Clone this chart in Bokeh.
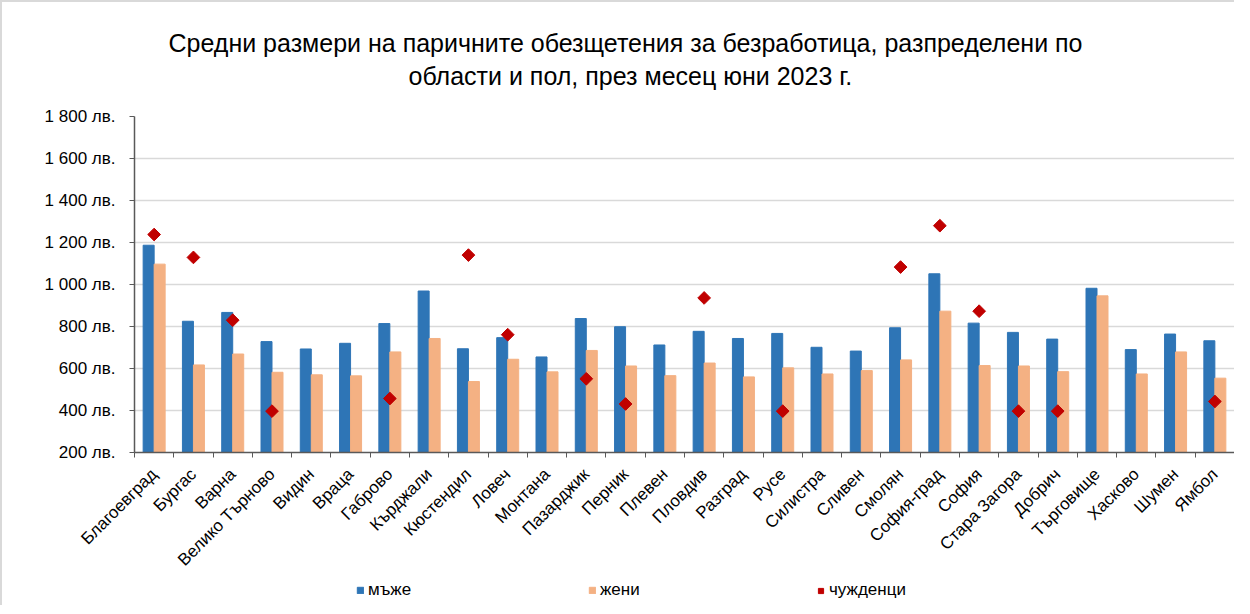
import numpy as np
from bokeh.plotting import figure
from bokeh.layouts import column
from bokeh.models import (ColumnDataSource, FixedTicker, Range1d, Title, Legend, LegendItem)
from bokeh.transform import dodge
from bokeh.embed import file_html
from bokeh.resources import INLINE

regions = ["Благоевград", "Бургас", "Варна", "Велико Търново", "Видин", "Враца", "Габрово",
           "Кърджали", "Кюстендил", "Ловеч", "Монтана", "Пазарджик", "Перник", "Плевен",
           "Пловдив", "Разград", "Русе", "Силистра", "Сливен", "Смолян", "София-град",
           "София", "Стара Загора", "Добрич", "Търговище", "Хасково", "Шумен", "Ямбол"]
men = [1187, 825, 867, 728, 693, 720, 814, 969, 694, 747, 655, 838, 799, 712,
       777, 743, 767, 701, 683, 794, 1051, 816, 772, 740, 982, 690, 764, 732]
women = [1097, 617, 669, 582, 570, 565, 679, 743, 538, 644, 584, 686, 612, 566,
         626, 560, 603, 574, 590, 641, 873, 614, 612, 585, 946, 574, 679, 554]
nan = float("nan")
foreigners = [1238, 1129, 830, 397, nan, nan, 457, nan, 1140, 761, nan, 551, 431, nan,
              936, nan, 397, nan, nan, 1083, 1280, 873, 397, 397, nan, nan, nan, 443]
y_ticks = [200, 400, 600, 800, 1000, 1200, 1400, 1600, 1800]
y_tick_labels = ["200 лв.", "400 лв.", "600 лв.", "800 лв.", "1 000 лв.", "1 200 лв.",
                 "1 400 лв.", "1 600 лв.", "1 800 лв."]
title_lines = ["Средни размери на паричните обезщетения за безработица, разпределени по",
               "области и пол, през месец юни 2023 г."]
series_names = ["мъже", "жени", "чужденци"]

FONT = "Liberation Sans"
BLUE = "#2e75b6"
ORANGE = "#f4b183"
RED = "#c00000"
AXIS = "#595959"
W = 1234

n = len(regions)
src = ColumnDataSource(dict(x=list(range(n)), men=men, women=women, foreigners=foreigners))

p = figure(width=W, height=577, output_backend="svg", toolbar_location=None,
           x_range=Range1d(-0.5, n - 0.5), y_range=Range1d(200, 1800),
           min_border_left=132, min_border_right=2, min_border_top=114, min_border_bottom=124)
p.title.text = ""
p.outline_line_color = None
p.background_fill_color = "white"
p.border_fill_color = "white"

r_men = p.vbar(x=dodge("x", -0.14, range=p.x_range), top="men", bottom=200, width=0.28,
               source=src, fill_color=BLUE, line_color=BLUE)
r_women = p.vbar(x=dodge("x", 0.14, range=p.x_range), top="women", bottom=200, width=0.28,
                 source=src, fill_color=ORANGE, line_color=ORANGE)
r_for = p.scatter(x="x", y="foreigners", source=src, marker="square", angle=np.pi / 4,
                  size=9, fill_color=RED, line_color=RED)

# axes
xa = p.xaxis[0]
xa.ticker = FixedTicker(ticks=list(range(n)), minor_ticks=[i - 0.5 for i in range(n + 1)])
xa.major_label_overrides = {i: regions[i] for i in range(n)}
xa.major_label_orientation = np.pi / 4
xa.major_tick_out = 0
xa.major_tick_in = 0
xa.minor_tick_out = 5
xa.minor_tick_in = 0
xa.minor_tick_line_color = AXIS
xa.axis_line_color = AXIS
xa.axis_line_width = 1.5
xa.major_label_text_font = FONT
xa.major_label_text_font_size = "17px"
xa.major_label_text_color = "black"
xa.major_label_standoff = 14

ya = p.yaxis[0]
ya.ticker = FixedTicker(ticks=y_ticks, minor_ticks=[])
ya.major_label_overrides = {v: s for v, s in zip(y_ticks, y_tick_labels)}
ya.major_tick_out = 5
ya.major_tick_in = 0
ya.major_tick_line_color = AXIS
ya.axis_line_color = AXIS
ya.axis_line_width = 1.5
ya.major_label_text_font = FONT
ya.major_label_text_font_size = "17px"
ya.major_label_text_color = "black"
ya.major_label_standoff = 14

p.xgrid.grid_line_color = None
p.ygrid.grid_line_color = "#d9d9d9"
p.ygrid.grid_line_width = 1.5

# spacer between the plot area and the title
p.add_layout(Title(text=" ", text_font_size="1px", standoff=24), "above")
# title (two lines; line nearest the plot first)
for line, off, so in zip(title_lines[::-1], [274, 34], [0, 6]):
    t = Title(text=line, align="left", offset=off, text_font=FONT, text_font_size="25px",
              text_font_style="normal", text_color="black", standoff=so)
    p.add_layout(t, "above")

# legend strip under the chart (legend keys only; no data drawn in view)
pl = figure(width=W, height=28, output_backend="svg", toolbar_location=None,
            x_axis_type=None, y_axis_type=None, x_range=Range1d(0, 1), y_range=Range1d(0, 1),
            min_border=0)
pl.title.text = ""
pl.outline_line_color = None
pl.xgrid.grid_line_color = None
pl.ygrid.grid_line_color = None
lm = pl.vbar(x=[-5], top=[-5], bottom=[-6], width=0.1, fill_color=BLUE, line_color=BLUE)
lw = pl.vbar(x=[-5], top=[-5], bottom=[-6], width=0.1, fill_color=ORANGE, line_color=ORANGE)
lf = pl.scatter(x=[-5], y=[-5], marker="square", angle=np.pi / 4, size=9,
                fill_color=RED, line_color=RED)

legend_specs = [(lm, series_names[0], 222, 8, 4),
                (lw, series_names[1], 454, 8, 4),
                (lf, series_names[2], 680, 13, 2)]
for r, name, lx, gw, so in legend_specs:
    lg = Legend(items=[LegendItem(label=name, renderers=[r])], location=(lx, 5),
                orientation="horizontal", border_line_color=None, background_fill_alpha=0,
                padding=0, margin=0, glyph_width=gw, glyph_height=gw, label_height=16,
                label_standoff=so, label_text_font=FONT, label_text_font_size="17px",
                label_text_color="black")
    pl.add_layout(lg, "center")

p.styles = {"border-top": "2px solid #d9d9d9", "border-left": "2px solid #d9d9d9"}
pl.styles = {"border-left": "2px solid #d9d9d9"}

layout = column(p, pl, spacing=0)
open("out.html", "w").write(file_html(layout, INLINE))
